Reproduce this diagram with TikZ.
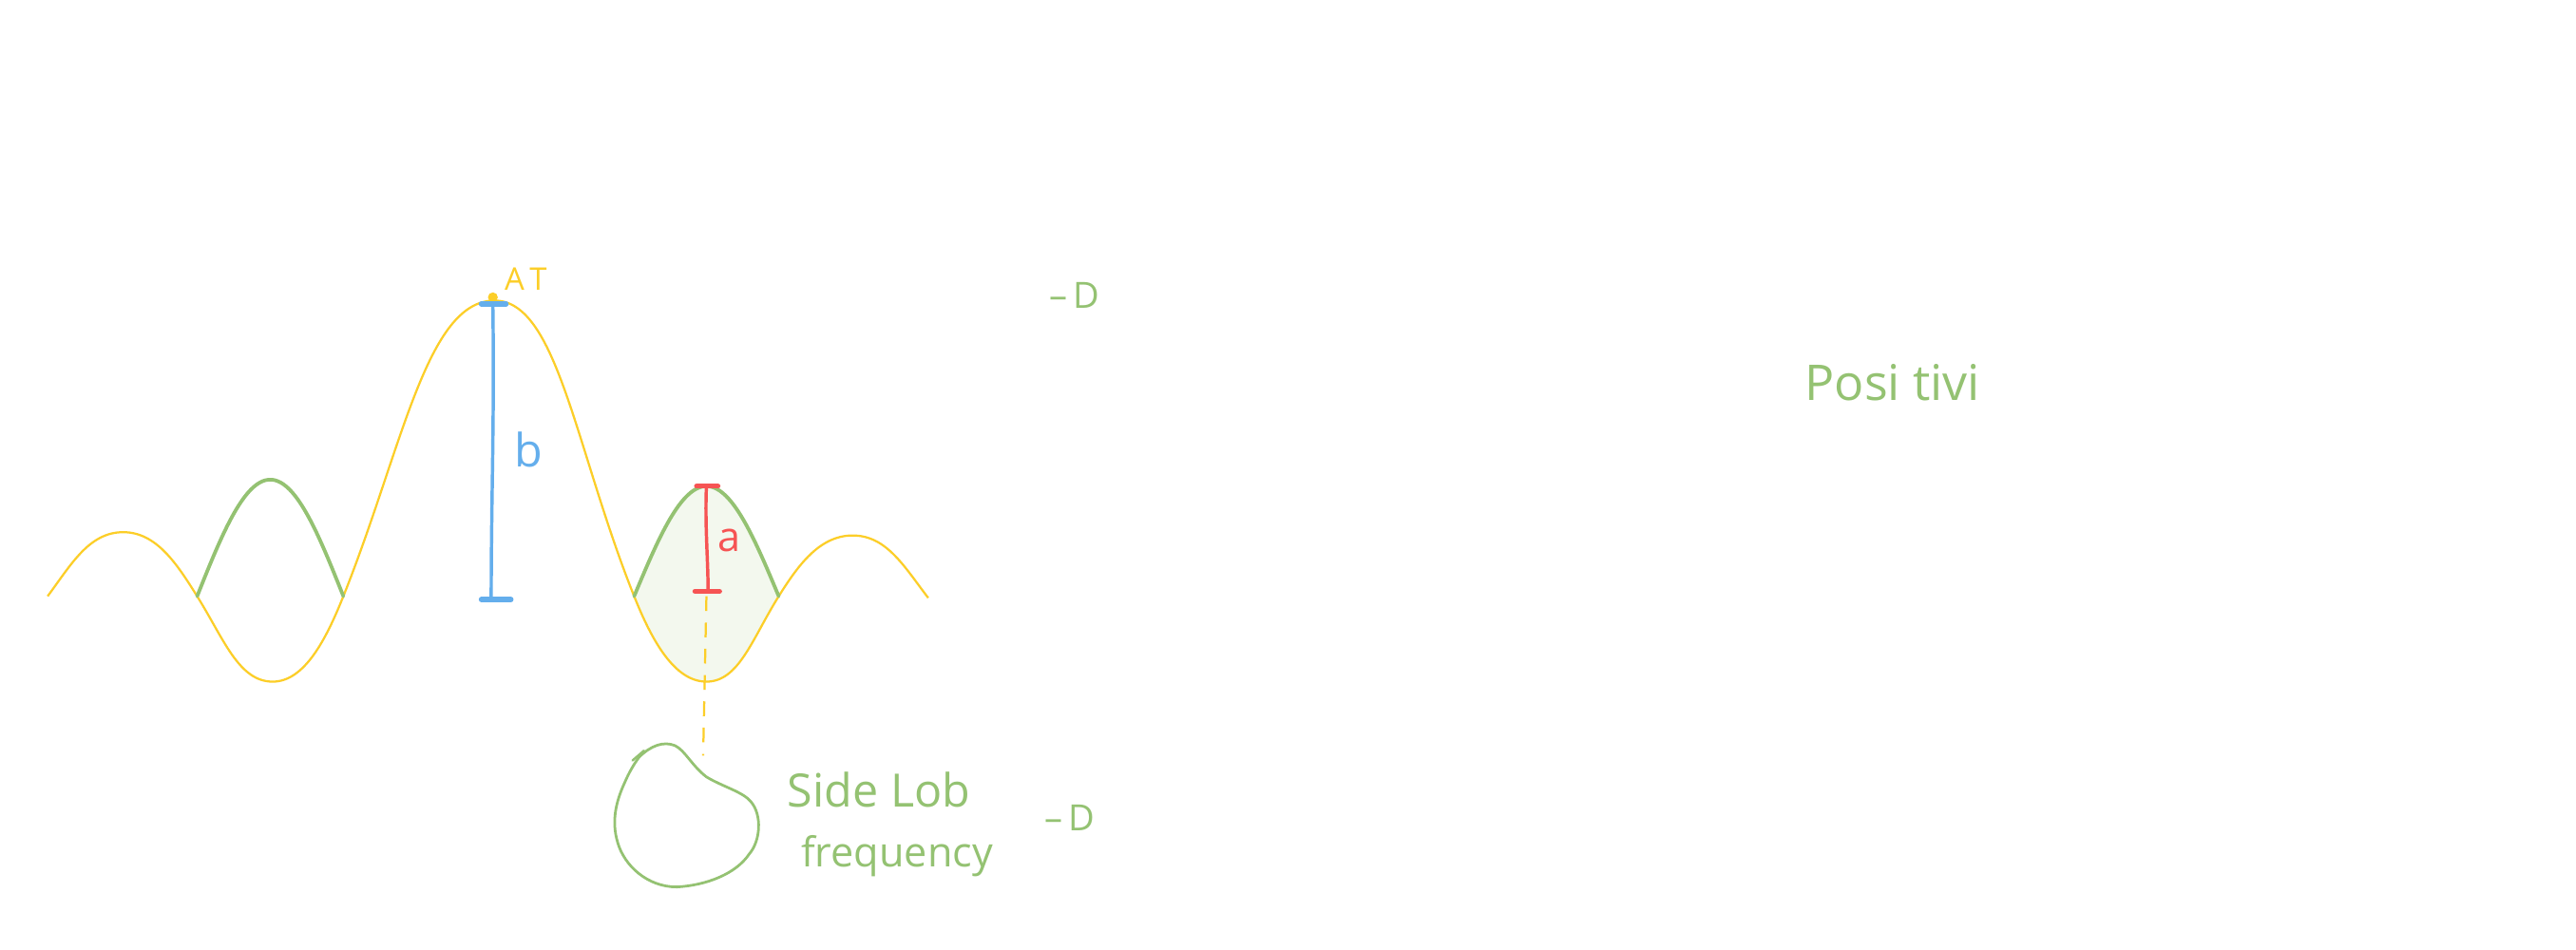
\documentclass[tikz,border=0pt]{standalone}
\usepackage{fontspec}
\setmainfont{Open Sans}
\definecolor{cyel}{RGB}{252,206,40}
\definecolor{cgrn}{RGB}{148,194,114}
\definecolor{cfill}{RGB}{243,248,238}
\definecolor{cblu}{RGB}{100,174,236}
\definecolor{cred}{RGB}{246,84,84}
\tikzset{
  yel/.style={draw=cyel,line width=1.3pt},
  grn/.style={draw=cgrn,line width=2.2pt,line cap=round},
  barblue/.style={draw=cblu,line width=2pt,line cap=round},
  capblue/.style={draw=cblu,line width=3.2pt,line cap=round},
  barred/.style={draw=cred,line width=2pt,line cap=round},
  capred/.style={draw=cred,line width=3pt,line cap=round},
  lbl/.style={inner sep=0pt,anchor=center},
}
\begin{document}
\begin{tikzpicture}[x=1pt,y=-1pt]
\useasboundingbox (0,0) rectangle (1568,578);
\fill[white] (0,0) rectangle (1568,578);
% fill of right side lobe
\fill[cfill] plot[domain=0:180,samples=50] ({386+\x/180*88},{363-67*sin(\x)})
  .. controls (457.75,389) and (449.8,415) .. (430,415)
  .. controls (410.2,415) and (396.4,389) .. (386,363) -- cycle;
% yellow sinc curve
\draw[yel] (29,363)
  .. controls (43.4,343.5) and (54.3,324) .. (75,324)
  .. controls (95.3,324) and (107.8,343.5) .. (120,363)
  .. controls (136.25,389) and (145.3,415) .. (166,415)
  .. controls (185.4,415) and (198.6,389) .. (209,363)
  .. controls (245,273) and (259.6,183) .. (301,183)
  .. controls (339.3,183) and (350,273) .. (386,363)
  .. controls (396.4,389) and (410.2,415) .. (430,415)
  .. controls (449.8,415) and (457.75,389) .. (474,363)
  .. controls (485.6,344.5) and (498.7,326) .. (519,326)
  .. controls (539.7,326) and (550.4,345) .. (565,364);
% green arcs
\draw[grn] plot[domain=0:180,samples=50] ({120+\x/180*89},{363-71*sin(\x)});
\draw[grn] plot[domain=0:180,samples=50] ({386+\x/180*88},{363-67*sin(\x)});
% peak dot
\fill[cyel] (300,181) circle (3pt);
% blue bar
\coordinate (bt) at (300,185);
\coordinate (bb) at (299,365);
\draw[barblue] (bt) .. controls (301,260) and (299,300) .. (bb);
\draw[capblue] (293,185) -- (308,185);
\draw[capblue] (293,365) -- (311,365);
\node[lbl,text=cblu,font=\fontsize{28}{28}\selectfont] (b) at (322,274) {b};
% red bar
\coordinate (rt) at (430,296);
\coordinate (rb) at (431,360);
\draw[barred] (rt) .. controls (429,320) and (431,340) .. (rb);
\draw[capred] (424,296) -- (437,296);
\draw[capred] (423,360) -- (438,360);
\node[lbl,text=cred,font=\fontsize{25}{25}\selectfont] (a) at (444,329) {a};
% AT label
\node[lbl,text=cyel,font=\fontsize{19}{19}\selectfont] (at) at (320,170) {A\,T};
% dashed line
\coordinate (dtop) at (430,363);
\coordinate (dbot) at (428,460);
\draw[cyel,line width=1.3pt,dash pattern=on 9pt off 7pt] (dtop) -- (dbot);
% green blob
\draw[cgrn,line width=1.6pt,line cap=round]
  (389,461) .. controls (396,454) and (404,451) .. (411,454)
  .. controls (417,457) and (421,466) .. (430,473)
  .. controls (440,479) and (452,482) .. (457,488)
  .. controls (464,496) and (463,512) .. (456,520)
  .. controls (448,532) and (430,539) .. (412,540)
  .. controls (394,540) and (380,527) .. (376,513)
  .. controls (372,500) and (375,488) .. (380,477)
  .. controls (383,470) and (386,465) .. (389,461);
\draw[cgrn,line width=1.4pt,line cap=round] (385,463) -- (392,457);
% texts
\node[lbl,text=cgrn,font=\fontsize{28}{28}\selectfont] (sl) at (535,481) {Side Lob};
\node[lbl,text=cgrn,font=\fontsize{25}{25}\selectfont] (fr) at (546,521) {frequency};
\node[lbl,text=cgrn,font=\fontsize{22}{22}\selectfont] (d1) at (651,498) {–\,D};
\node[lbl,text=cgrn,font=\fontsize{22}{22}\selectfont] (d2) at (654,180) {–\,D};
\node[lbl,text=cgrn,font=\fontsize{30}{30}\selectfont] (pos) at (1152,233) {Posi tivi};
\end{tikzpicture}
\end{document}
